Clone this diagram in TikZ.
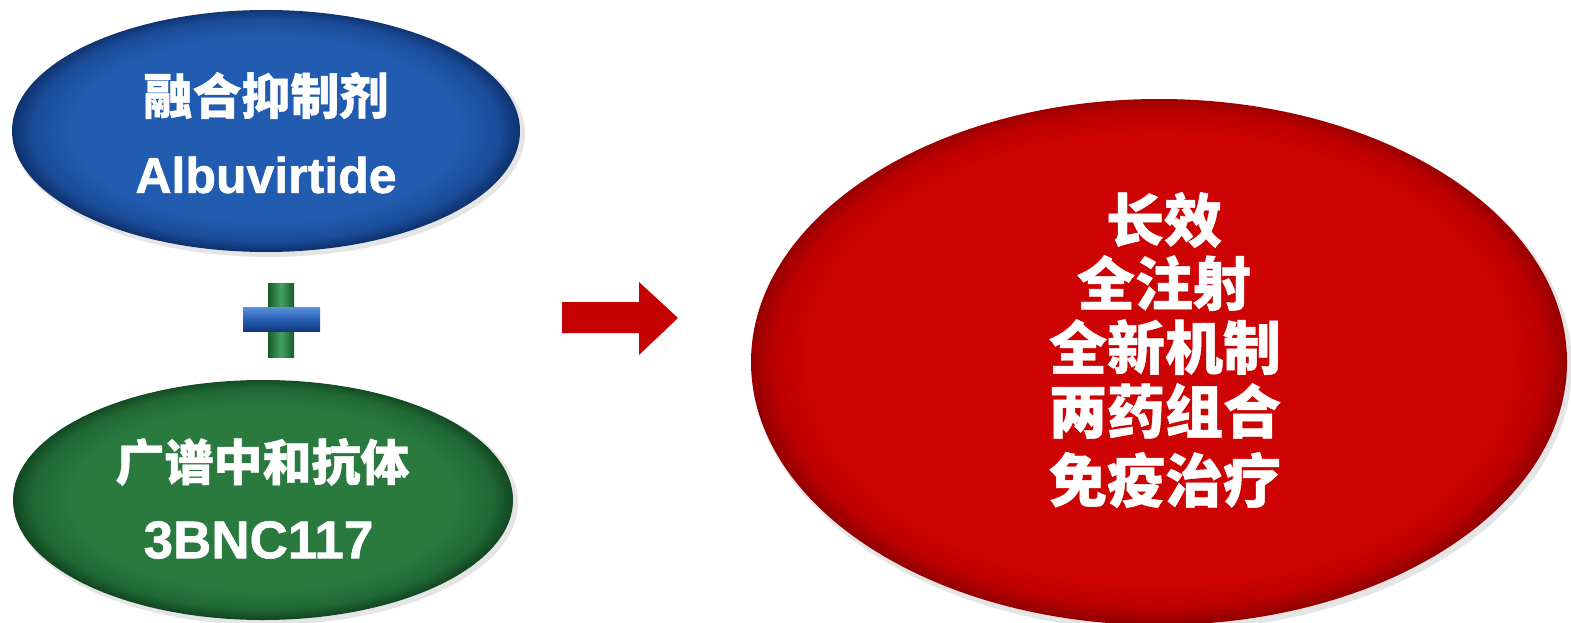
\documentclass[tikz,border=0pt]{standalone}
\usepackage{fontspec}
\setmainfont{Liberation Sans}
\newfontfamily\latb{Liberation Sans Bold}[FakeBold=1.2]
\newfontfamily\cjk{Noto Sans CJK SC}[BoldFeatures={FakeBold=0.8}]
\usetikzlibrary{shapes.geometric}
\definecolor{bluein}{RGB}{34,92,176}
\definecolor{bluemid}{RGB}{26,76,152}
\definecolor{blueout}{RGB}{14,50,110}
\definecolor{greenin}{RGB}{42,122,64}
\definecolor{greenmid}{RGB}{32,104,52}
\definecolor{greenout}{RGB}{18,72,34}
\definecolor{redin}{RGB}{206,4,4}
\definecolor{redmid}{RGB}{190,0,0}
\definecolor{redout}{RGB}{150,0,0}
\definecolor{arrowred}{RGB}{196,0,0}
\definecolor{plusgl}{RGB}{70,160,95}
\definecolor{plusgd}{RGB}{22,90,42}
\definecolor{plusbl}{RGB}{90,145,220}
\definecolor{plusbm}{RGB}{40,96,182}
\definecolor{plusbd}{RGB}{18,55,125}
\pgfdeclareradialshading{blueball}{\pgfpoint{0bp}{0.5bp}}{color(0bp)=(bluein);color(19bp)=(bluein);color(23bp)=(bluemid);color(25bp)=(blueout);color(50bp)=(blueout)}
\pgfdeclareradialshading{greenball}{\pgfpoint{0bp}{0.5bp}}{color(0bp)=(greenin);color(19bp)=(greenin);color(23bp)=(greenmid);color(25bp)=(greenout);color(50bp)=(greenout)}
\pgfdeclareradialshading{redball}{\pgfpoint{0bp}{0.5bp}}{color(0bp)=(redin);color(21bp)=(redin);color(23.5bp)=(redmid);color(25bp)=(redout);color(50bp)=(redout)}
\tikzset{
  oval/.style={ellipse, inner sep=0pt, draw=none},
  shadowoval/.style={ellipse, inner sep=0pt, draw=none, fill=black, opacity=0.10},
  txt/.style={text=white, inner sep=0pt, anchor=center},
  cjkA/.style={txt, font=\cjk\bfseries\fontsize{49}{49}\selectfont},
  cjkR/.style={txt, font=\cjk\bfseries\fontsize{58}{58}\selectfont},
  latin/.style={txt, font=\latb\fontsize{50}{50}\selectfont},
}
\begin{document}
\begin{tikzpicture}[x=1pt,y=-1pt]
\path[use as bounding box, fill=white] (0,0) rectangle (1571,623);
% shadows
\node[shadowoval, minimum width=512, minimum height=246] (fusS) at (269,134) {};
\node[shadowoval, minimum width=504, minimum height=244] (abS) at (266,503) {};
\node[shadowoval, minimum width=820, minimum height=530] (resS) at (1162,366) {};
% ellipses
\node[oval, shading=blueball, minimum width=508, minimum height=242] (fus) at (266,131) {};
\node[oval, shading=greenball, minimum width=500, minimum height=240] (ab) at (263,500) {};
\node[oval, shading=redball, minimum width=816, minimum height=526] (res) at (1159,362) {};
% texts
\node[cjkA] (fus1) at (266,95.5) {融合抑制剂};
\node[latin] (fus2) at (266,175) {Albuvirtide};
\node[cjkA] (ab1) at (262.5,462) {广谱中和抗体};
\node[latin, font=\latb\fontsize{53}{53}\selectfont] (ab2) at (258.5,540) {3BNC117};
\node[cjkR] (r1) at (1164,220) {长效};
\node[cjkR] (r2) at (1164,283) {全注射};
\node[cjkR] (r3) at (1165,347) {全新机制};
\node[cjkR] (r4) at (1165,411) {两药组合};
\node[cjkR] (r5) at (1165,480) {免疫治疗};
% plus sign
\node[rectangle, inner sep=0pt, minimum width=26, minimum height=74, left color=plusgd, right color=plusgd, middle color=plusgl] (plusv) at (281,320) {};
\node[rectangle, inner sep=0pt, minimum width=77, minimum height=24, top color=plusbl, bottom color=plusbd, middle color=plusbm] (plush) at (281.5,319) {};
% arrow
\coordinate (arrtail) at (562,317.5);
\fill[arrowred] (arrtail) ++(0,-15.5) -- (639,302) -- (639,282) -- (678,318) -- (639,355) -- (639,333) -- (562,333) -- cycle;
\end{tikzpicture}
\end{document}
